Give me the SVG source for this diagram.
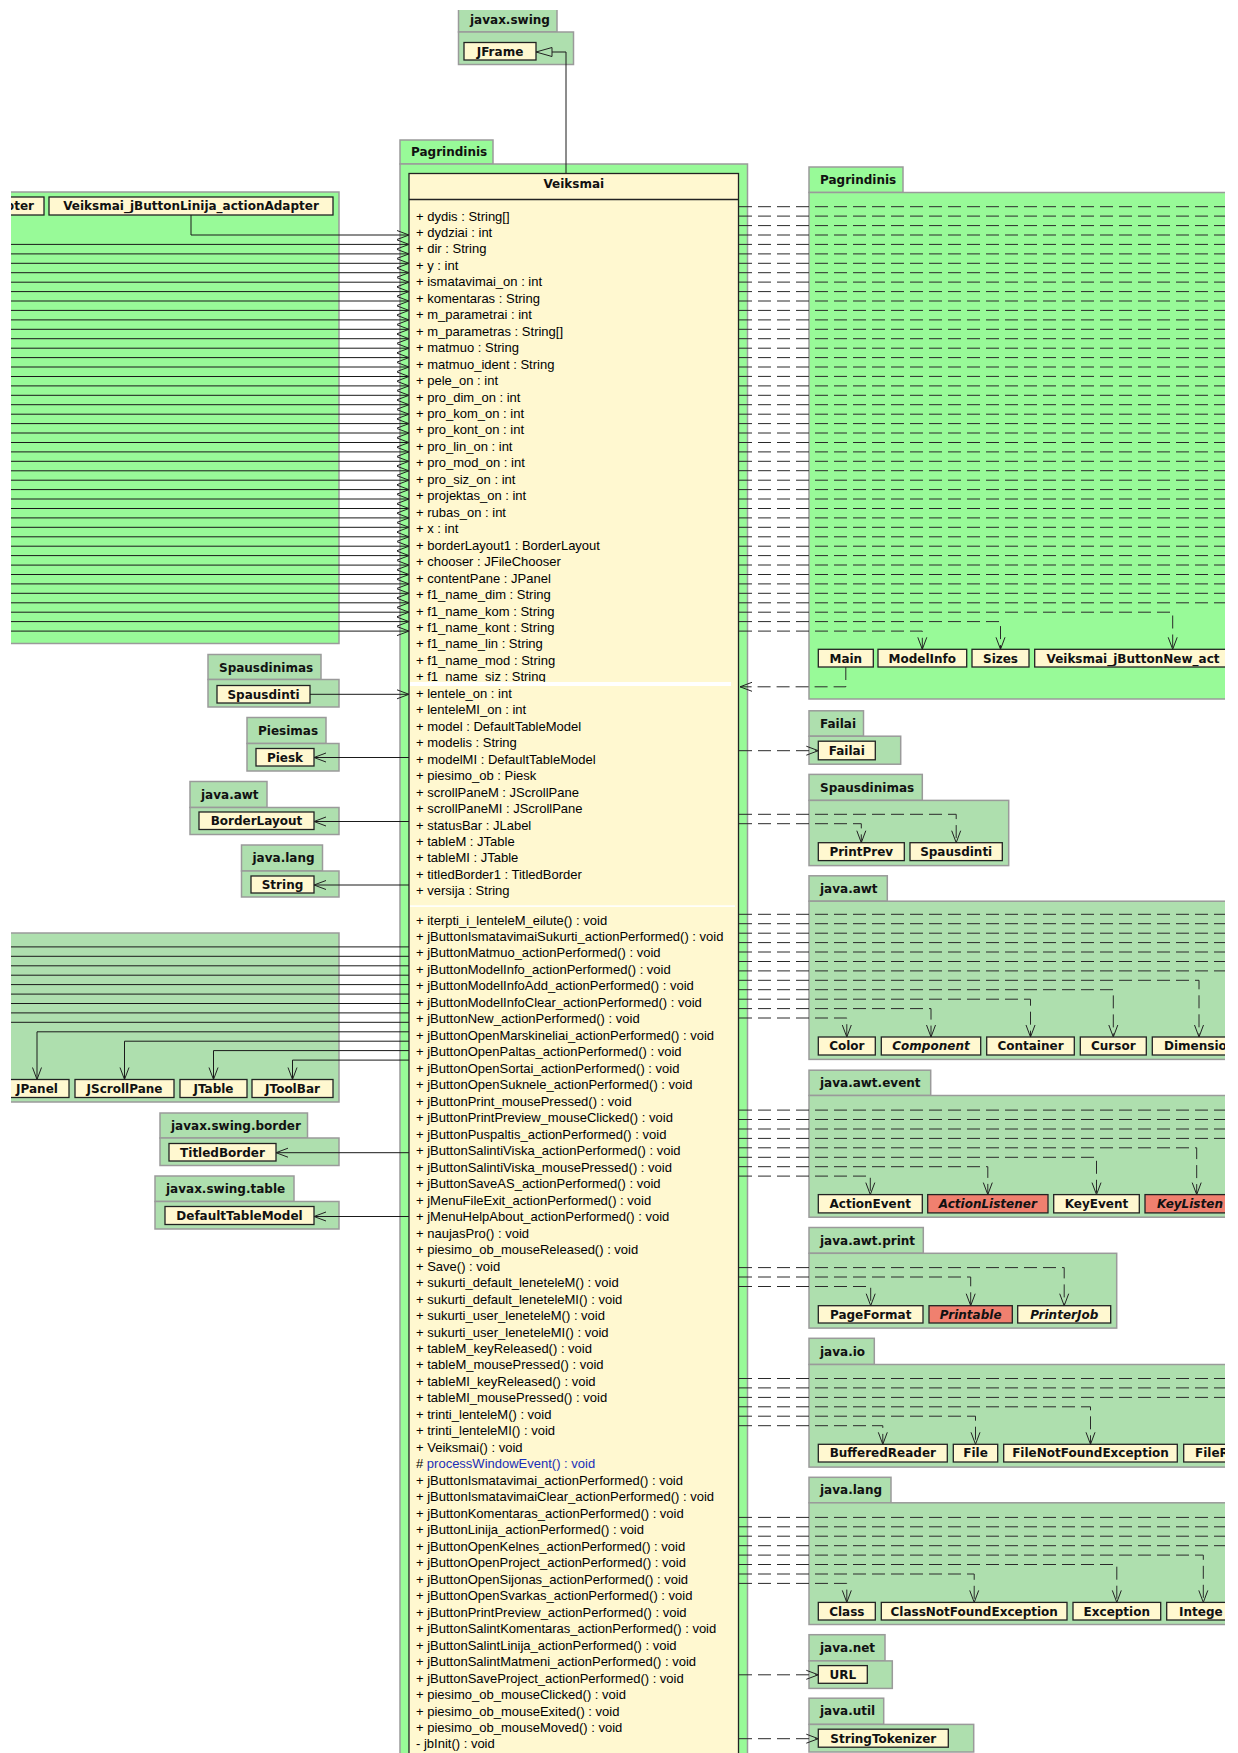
<svg xmlns="http://www.w3.org/2000/svg" width="1238" height="1753" viewBox="0 0 1238 1753">
<style>
.pkg{fill:#98FA98;stroke:#9A9A9A;stroke-width:1.5}
.ext{fill:#AEDFAE;stroke:#9A9A9A;stroke-width:1.5}
.cls{fill:#FFF8D0;stroke:#222;stroke-width:1.3}
.iface{fill:#F0806F;stroke:#222;stroke-width:1.3}
.lbl{font-family:"DejaVu Sans",Verdana,sans-serif;font-weight:bold;font-size:12px;fill:#111}
.c{text-anchor:middle}
.it{font-style:italic}
.mem{font-family:"Liberation Sans",Arial,sans-serif;font-size:13px;fill:#000}
.prot{fill:#1a2fb8}
.assoc{fill:none;stroke:#1a1a1a;stroke-width:1}
.dep{fill:none;stroke:#2a2a2a;stroke-width:1;stroke-dasharray:13 6}
.seam{fill:#fff}
</style>
<defs>
<clipPath id="view"><rect x="11" y="10" width="1214" height="1743"/></clipPath>
<marker id="open" viewBox="0 0 12 10" refX="12" refY="5" markerWidth="12" markerHeight="10" markerUnits="userSpaceOnUse" orient="auto" overflow="visible">
<path d="M0,0.5 L12,5 L0,9.5" fill="none" stroke="#222" stroke-width="1" stroke-dasharray="none"/>
</marker>
<marker id="gen" viewBox="0 0 16 10" refX="16" refY="5" markerWidth="16" markerHeight="10" markerUnits="userSpaceOnUse" orient="auto" overflow="visible">
<path d="M0,0.5 L16,5 L0,9.5 Z" fill="#AEDFAE" stroke="#222" stroke-width="1"/>
</marker>
</defs>
<rect x="0" y="0" width="1238" height="1753" fill="#fff"/>
<g clip-path="url(#view)">

<!-- packages and classes -->
<g id="pkg-javax-swing-top">
<rect class="ext" x="458.5" y="7" width="98.5" height="25"/>
<rect class="ext" x="458.5" y="32" width="115" height="32.5"/>
<text class="lbl" x="470" y="24">javax.swing</text>
<g id="cls-JFrame"><rect class="cls" x="464" y="42.5" width="72" height="17.5"/><text class="lbl c" x="500" y="55.5">JFrame</text></g>
</g>

<g id="pkg-pagrindinis-main">
<rect class="pkg" x="400" y="140" width="93" height="24"/>
<rect class="pkg" x="400" y="164" width="347.5" height="1620"/>
<text class="lbl" x="411" y="156">Pagrindinis</text>
</g>

<g id="pkg-pagrindinis-left">
<rect class="pkg" x="-5" y="192" width="344" height="451.5"/>
<g id="cls-adapter-left"><rect class="cls" x="-60" y="197" width="104" height="18"/><text class="lbl" x="34" y="210.3" text-anchor="end">pter</text></g>
<g id="cls-Veiksmai_jButtonLinija_actionAdapter"><rect class="cls" x="49" y="197" width="284" height="18"/><text class="lbl c" x="191" y="210.3">Veiksmai_jButtonLinija_actionAdapter</text></g>
</g>

<g id="pkg-spausdinimas-left">
<rect class="ext" x="208" y="654.5" width="113" height="25"/>
<rect class="ext" x="208" y="679.5" width="131" height="27.5"/>
<text class="lbl" x="219" y="671.5">Spausdinimas</text>
<g id="cls-Spausdinti-left"><rect class="cls" x="217" y="685.5" width="93" height="17.5"/><text class="lbl c" x="263.5" y="698.5">Spausdinti</text></g>
</g>

<g id="pkg-piesimas">
<rect class="ext" x="247" y="717.5" width="79" height="26"/>
<rect class="ext" x="247" y="743.5" width="92" height="27.5"/>
<text class="lbl" x="258" y="734.5">Piesimas</text>
<g id="cls-Piesk"><rect class="cls" x="256" y="748.5" width="58" height="17.5"/><text class="lbl c" x="285" y="761.5">Piesk</text></g>
</g>

<g id="pkg-java-awt-left">
<rect class="ext" x="190" y="781.5" width="77" height="26"/>
<rect class="ext" x="190" y="807.5" width="149" height="27"/>
<text class="lbl" x="201" y="798.5">java.awt</text>
<g id="cls-BorderLayout"><rect class="cls" x="199" y="812" width="115" height="17.5"/><text class="lbl c" x="256.5" y="825">BorderLayout</text></g>
</g>

<g id="pkg-java-lang-left">
<rect class="ext" x="241.5" y="845" width="81" height="26"/>
<rect class="ext" x="241.5" y="871" width="97.5" height="26"/>
<text class="lbl" x="252.5" y="862">java.lang</text>
<g id="cls-String"><rect class="cls" x="251" y="876" width="63" height="17"/><text class="lbl c" x="282.5" y="888.8">String</text></g>
</g>

<g id="pkg-javax-swing-left">
<rect class="ext" x="-5" y="933" width="344" height="169"/>
<g id="cls-JPanel"><rect class="cls" x="5" y="1079.5" width="64" height="18"/><text class="lbl c" x="37" y="1092.8">JPanel</text></g>
<g id="cls-JScrollPane"><rect class="cls" x="75" y="1079.5" width="99" height="18"/><text class="lbl c" x="124.5" y="1092.8">JScrollPane</text></g>
<g id="cls-JTable"><rect class="cls" x="180" y="1079.5" width="67" height="18"/><text class="lbl c" x="213.5" y="1092.8">JTable</text></g>
<g id="cls-JToolBar"><rect class="cls" x="252" y="1079.5" width="81" height="18"/><text class="lbl c" x="292.5" y="1092.8">JToolBar</text></g>
</g>

<g id="pkg-javax-swing-border">
<rect class="ext" x="160" y="1113" width="147.5" height="25"/>
<rect class="ext" x="160" y="1138" width="179" height="27.5"/>
<text class="lbl" x="171" y="1130">javax.swing.border</text>
<g id="cls-TitledBorder"><rect class="cls" x="169" y="1143.5" width="107" height="17.5"/><text class="lbl c" x="222.5" y="1156.5">TitledBorder</text></g>
</g>

<g id="pkg-javax-swing-table">
<rect class="ext" x="155" y="1176" width="139" height="25.5"/>
<rect class="ext" x="155" y="1201.5" width="184" height="27.5"/>
<text class="lbl" x="166" y="1193">javax.swing.table</text>
<g id="cls-DefaultTableModel"><rect class="cls" x="165" y="1206.5" width="149" height="18"/><text class="lbl c" x="239.5" y="1219.8">DefaultTableModel</text></g>
</g>

<g id="pkg-pagrindinis-right">
<rect class="pkg" x="809" y="167" width="94" height="25.5"/>
<rect class="pkg" x="809" y="192.5" width="440" height="506.5"/>
<text class="lbl" x="820" y="184">Pagrindinis</text>
<g id="cls-Main"><rect class="cls" x="818.3" y="649.3" width="55" height="17.7"/><text class="lbl c" x="845.8" y="662.5">Main</text></g>
<g id="cls-ModelInfo"><rect class="cls" x="878" y="649.3" width="88.7" height="17.7"/><text class="lbl c" x="922.3" y="662.5">ModelInfo</text></g>
<g id="cls-Sizes"><rect class="cls" x="972" y="649.3" width="57" height="17.7"/><text class="lbl c" x="1000.5" y="662.5">Sizes</text></g>
<g id="cls-Veiksmai_jButtonNew"><rect class="cls" x="1034.7" y="649.3" width="250" height="17.7"/><text class="lbl" x="1046.5" y="662.5">Veiksmai_jButtonNew_act</text></g>
</g>

<g id="pkg-failai">
<rect class="ext" x="809" y="710.8" width="54.5" height="25.4"/>
<rect class="ext" x="809" y="736.2" width="91.7" height="28"/>
<text class="lbl" x="820" y="728">Failai</text>
<g id="cls-Failai"><rect class="cls" x="818.3" y="741.2" width="57" height="18.6"/><text class="lbl c" x="846.8" y="754.8">Failai</text></g>
</g>

<g id="pkg-spausdinimas-right">
<rect class="ext" x="809" y="774.4" width="113.3" height="26"/>
<rect class="ext" x="809" y="800.4" width="199.7" height="65.2"/>
<text class="lbl" x="820" y="791.5">Spausdinimas</text>
<g id="cls-PrintPrev"><rect class="cls" x="818.3" y="842.7" width="86" height="17.9"/><text class="lbl c" x="861.3" y="856">PrintPrev</text></g>
<g id="cls-Spausdinti-right"><rect class="cls" x="910" y="842.7" width="92.3" height="17.9"/><text class="lbl c" x="956.2" y="856">Spausdinti</text></g>
</g>

<g id="pkg-java-awt">
<rect class="ext" x="809" y="875.8" width="78.3" height="25.4"/>
<rect class="ext" x="809" y="901.2" width="440" height="158.2"/>
<text class="lbl" x="820" y="893">java.awt</text>
<g id="cls-Color"><rect class="cls" x="818.3" y="1037" width="57" height="18"/><text class="lbl c" x="846.8" y="1050.3">Color</text></g>
<g id="cls-Component"><rect class="cls" x="881.3" y="1037" width="99.4" height="18"/><text class="lbl c it" x="931" y="1050.3">Component</text></g>
<g id="cls-Container"><rect class="cls" x="986.7" y="1037" width="87.6" height="18"/><text class="lbl c" x="1030.5" y="1050.3">Container</text></g>
<g id="cls-Cursor"><rect class="cls" x="1080.3" y="1037" width="66" height="18"/><text class="lbl c" x="1113.3" y="1050.3">Cursor</text></g>
<g id="cls-Dimension"><rect class="cls" x="1152.3" y="1037" width="100" height="18"/><text class="lbl" x="1164" y="1050.3">Dimensio</text></g>
</g>

<g id="pkg-java-awt-event">
<rect class="ext" x="809" y="1070.2" width="121.7" height="25.3"/>
<rect class="ext" x="809" y="1095.5" width="440" height="121.7"/>
<text class="lbl" x="820" y="1087.2">java.awt.event</text>
<g id="cls-ActionEvent"><rect class="cls" x="818.3" y="1194.6" width="104" height="18.3"/><text class="lbl c" x="870.3" y="1208">ActionEvent</text></g>
<g id="cls-ActionListener"><rect class="iface" x="927.7" y="1194.6" width="120.3" height="18.3"/><text class="lbl c it" x="987.8" y="1208">ActionListener</text></g>
<g id="cls-KeyEvent"><rect class="cls" x="1053.7" y="1194.6" width="85.6" height="18.3"/><text class="lbl c" x="1096.5" y="1208">KeyEvent</text></g>
<g id="cls-KeyListener"><rect class="iface" x="1145" y="1194.6" width="110" height="18.3"/><text class="lbl it" x="1157" y="1208">KeyListen</text></g>
</g>

<g id="pkg-java-awt-print">
<rect class="ext" x="809" y="1227.5" width="114.3" height="25.8"/>
<rect class="ext" x="809" y="1253.3" width="307.7" height="74.8"/>
<text class="lbl" x="820" y="1244.5">java.awt.print</text>
<g id="cls-PageFormat"><rect class="cls" x="818.3" y="1305.7" width="104.7" height="17.3"/><text class="lbl c" x="870.7" y="1318.6">PageFormat</text></g>
<g id="cls-Printable"><rect class="iface" x="929" y="1305.7" width="83.3" height="17.3"/><text class="lbl c it" x="970.7" y="1318.6">Printable</text></g>
<g id="cls-PrinterJob"><rect class="cls" x="1017.7" y="1305.7" width="93" height="17.3"/><text class="lbl c it" x="1064.2" y="1318.6">PrinterJob</text></g>
</g>

<g id="pkg-java-io">
<rect class="ext" x="809" y="1338.3" width="65.3" height="26.2"/>
<rect class="ext" x="809" y="1364.5" width="440" height="102.6"/>
<text class="lbl" x="820" y="1355.5">java.io</text>
<g id="cls-BufferedReader"><rect class="cls" x="818.3" y="1444.3" width="129" height="17.7"/><text class="lbl c" x="882.8" y="1457.4">BufferedReader</text></g>
<g id="cls-File"><rect class="cls" x="953.3" y="1444.3" width="44.4" height="17.7"/><text class="lbl c" x="975.5" y="1457.4">File</text></g>
<g id="cls-FileNotFoundException"><rect class="cls" x="1003.7" y="1444.3" width="173.6" height="17.7"/><text class="lbl c" x="1090.5" y="1457.4">FileNotFoundException</text></g>
<g id="cls-FileReader"><rect class="cls" x="1183.7" y="1444.3" width="100" height="17.7"/><text class="lbl" x="1195" y="1457.4">FileR</text></g>
</g>

<g id="pkg-java-lang-right">
<rect class="ext" x="809" y="1477.3" width="82" height="25.5"/>
<rect class="ext" x="809" y="1502.8" width="440" height="121.7"/>
<text class="lbl" x="820" y="1494.3">java.lang</text>
<g id="cls-Class"><rect class="cls" x="818.3" y="1602.4" width="57" height="17.6"/><text class="lbl c" x="846.8" y="1615.5">Class</text></g>
<g id="cls-ClassNotFoundException"><rect class="cls" x="881.3" y="1602.4" width="185.7" height="17.6"/><text class="lbl c" x="974.2" y="1615.5">ClassNotFoundException</text></g>
<g id="cls-Exception"><rect class="cls" x="1073" y="1602.4" width="87.7" height="17.6"/><text class="lbl c" x="1116.8" y="1615.5">Exception</text></g>
<g id="cls-Integer"><rect class="cls" x="1166.7" y="1602.4" width="90" height="17.6"/><text class="lbl" x="1179" y="1615.5">Intege</text></g>
</g>

<g id="pkg-java-net">
<rect class="ext" x="809" y="1634.7" width="76" height="26.2"/>
<rect class="ext" x="809" y="1660.9" width="83.3" height="27.5"/>
<text class="lbl" x="820" y="1651.8">java.net</text>
<g id="cls-URL"><rect class="cls" x="818.3" y="1665.6" width="49" height="17.7"/><text class="lbl c" x="842.8" y="1678.7">URL</text></g>
</g>

<g id="pkg-java-util">
<rect class="ext" x="809" y="1698.2" width="74.7" height="26.2"/>
<rect class="ext" x="809" y="1724.4" width="164.7" height="27.6"/>
<text class="lbl" x="820" y="1715.3">java.util</text>
<g id="cls-StringTokenizer"><rect class="cls" x="818.3" y="1729.2" width="130" height="18"/><text class="lbl c" x="883.3" y="1742.5">StringTokenizer</text></g>
</g>

<!-- connectors -->
<g id="connectors">
<path class="assoc" d="M566,173.5 V52 H536" marker-end="url(#gen)"/>

<path class="assoc" d="M191,215 V235 H409" marker-end="url(#open)"/>
<path class="assoc" d="M0,244.4 H409" marker-end="url(#open)"/>
<path class="assoc" d="M0,253.9 H409" marker-end="url(#open)"/>
<path class="assoc" d="M0,263.3 H409" marker-end="url(#open)"/>
<path class="assoc" d="M0,272.7 H409" marker-end="url(#open)"/>
<path class="assoc" d="M0,282.2 H409" marker-end="url(#open)"/>
<path class="assoc" d="M0,291.6 H409" marker-end="url(#open)"/>
<path class="assoc" d="M0,301.0 H409" marker-end="url(#open)"/>
<path class="assoc" d="M0,310.4 H409" marker-end="url(#open)"/>
<path class="assoc" d="M0,319.9 H409" marker-end="url(#open)"/>
<path class="assoc" d="M0,329.3 H409" marker-end="url(#open)"/>
<path class="assoc" d="M0,338.7 H409" marker-end="url(#open)"/>
<path class="assoc" d="M0,348.2 H409" marker-end="url(#open)"/>
<path class="assoc" d="M0,357.6 H409" marker-end="url(#open)"/>
<path class="assoc" d="M0,367.0 H409" marker-end="url(#open)"/>
<path class="assoc" d="M0,376.5 H409" marker-end="url(#open)"/>
<path class="assoc" d="M0,385.9 H409" marker-end="url(#open)"/>
<path class="assoc" d="M0,395.3 H409" marker-end="url(#open)"/>
<path class="assoc" d="M0,404.7 H409" marker-end="url(#open)"/>
<path class="assoc" d="M0,414.2 H409" marker-end="url(#open)"/>
<path class="assoc" d="M0,423.6 H409" marker-end="url(#open)"/>
<path class="assoc" d="M0,433.0 H409" marker-end="url(#open)"/>
<path class="assoc" d="M0,442.5 H409" marker-end="url(#open)"/>
<path class="assoc" d="M0,451.9 H409" marker-end="url(#open)"/>
<path class="assoc" d="M0,461.3 H409" marker-end="url(#open)"/>
<path class="assoc" d="M0,470.8 H409" marker-end="url(#open)"/>
<path class="assoc" d="M0,480.2 H409" marker-end="url(#open)"/>
<path class="assoc" d="M0,489.6 H409" marker-end="url(#open)"/>
<path class="assoc" d="M0,499.0 H409" marker-end="url(#open)"/>
<path class="assoc" d="M0,508.5 H409" marker-end="url(#open)"/>
<path class="assoc" d="M0,517.9 H409" marker-end="url(#open)"/>
<path class="assoc" d="M0,527.3 H409" marker-end="url(#open)"/>
<path class="assoc" d="M0,536.8 H409" marker-end="url(#open)"/>
<path class="assoc" d="M0,546.2 H409" marker-end="url(#open)"/>
<path class="assoc" d="M0,555.6 H409" marker-end="url(#open)"/>
<path class="assoc" d="M0,565.1 H409" marker-end="url(#open)"/>
<path class="assoc" d="M0,574.5 H409" marker-end="url(#open)"/>
<path class="assoc" d="M0,583.9 H409" marker-end="url(#open)"/>
<path class="assoc" d="M0,593.3 H409" marker-end="url(#open)"/>
<path class="assoc" d="M0,602.8 H409" marker-end="url(#open)"/>
<path class="assoc" d="M0,612.2 H409" marker-end="url(#open)"/>
<path class="assoc" d="M0,621.6 H409" marker-end="url(#open)"/>
<path class="assoc" d="M0,631.1 H409" marker-end="url(#open)"/>

<path class="assoc" d="M310,694.3 H409" marker-end="url(#open)"/>
<path class="assoc" d="M409,757.5 H314" marker-end="url(#open)"/>
<path class="assoc" d="M409,821.5 H314" marker-end="url(#open)"/>
<path class="assoc" d="M409,885 H314" marker-end="url(#open)"/>

<path class="assoc" d="M409,946.9 H0"/>
<path class="assoc" d="M409,956.3 H0"/>
<path class="assoc" d="M409,965.8 H0"/>
<path class="assoc" d="M409,975.2 H0"/>
<path class="assoc" d="M409,984.6 H0"/>
<path class="assoc" d="M409,994.1 H0"/>
<path class="assoc" d="M409,1003.5 H0"/>
<path class="assoc" d="M409,1012.9 H0"/>
<path class="assoc" d="M409,1022.3 H0"/>
<path class="assoc" d="M409,1031.8 H37 V1079.5" marker-end="url(#open)"/>
<path class="assoc" d="M409,1041.2 H124.5 V1079.5" marker-end="url(#open)"/>
<path class="assoc" d="M409,1050.6 H213.5 V1079.5" marker-end="url(#open)"/>
<path class="assoc" d="M409,1060.1 H292.5 V1079.5" marker-end="url(#open)"/>

<path class="assoc" d="M409,1152.7 H276" marker-end="url(#open)"/>
<path class="assoc" d="M409,1216.5 H314" marker-end="url(#open)"/>

<path class="dep" d="M739,206.7 H1240"/>
<path class="dep" d="M739,216.1 H1240"/>
<path class="dep" d="M739,225.6 H1240"/>
<path class="dep" d="M739,235.0 H1240"/>
<path class="dep" d="M739,244.4 H1240"/>
<path class="dep" d="M739,253.9 H1240"/>
<path class="dep" d="M739,263.3 H1240"/>
<path class="dep" d="M739,272.7 H1240"/>
<path class="dep" d="M739,282.1 H1240"/>
<path class="dep" d="M739,291.6 H1240"/>
<path class="dep" d="M739,301.0 H1240"/>
<path class="dep" d="M739,310.4 H1240"/>
<path class="dep" d="M739,319.9 H1240"/>
<path class="dep" d="M739,329.3 H1240"/>
<path class="dep" d="M739,338.7 H1240"/>
<path class="dep" d="M739,348.2 H1240"/>
<path class="dep" d="M739,357.6 H1240"/>
<path class="dep" d="M739,367.0 H1240"/>
<path class="dep" d="M739,376.4 H1240"/>
<path class="dep" d="M739,385.9 H1240"/>
<path class="dep" d="M739,395.3 H1240"/>
<path class="dep" d="M739,404.7 H1240"/>
<path class="dep" d="M739,414.2 H1240"/>
<path class="dep" d="M739,423.6 H1240"/>
<path class="dep" d="M739,433.0 H1240"/>
<path class="dep" d="M739,442.5 H1240"/>
<path class="dep" d="M739,451.9 H1240"/>
<path class="dep" d="M739,461.3 H1240"/>
<path class="dep" d="M739,470.7 H1240"/>
<path class="dep" d="M739,480.2 H1240"/>
<path class="dep" d="M739,489.6 H1240"/>
<path class="dep" d="M739,499.0 H1240"/>
<path class="dep" d="M739,508.5 H1240"/>
<path class="dep" d="M739,517.9 H1240"/>
<path class="dep" d="M739,527.3 H1240"/>
<path class="dep" d="M739,536.8 H1240"/>
<path class="dep" d="M739,546.2 H1240"/>
<path class="dep" d="M739,555.6 H1240"/>
<path class="dep" d="M739,565.0 H1240"/>
<path class="dep" d="M739,574.5 H1240"/>
<path class="dep" d="M739,583.9 H1240"/>
<path class="dep" d="M739,593.3 H1240"/>
<path class="dep" d="M739,602.8 H1240"/>
<path class="dep" d="M739,612.2 H1172.7 V649.3" marker-end="url(#open)"/>
<path class="dep" d="M739,621.6 H1000.5 V649.3" marker-end="url(#open)"/>
<path class="dep" d="M739,631.1 H922.3 V649.3" marker-end="url(#open)"/>
<path class="dep" d="M845.8,667 V686.8 H740" marker-end="url(#open)"/>

<path class="dep" d="M739,750.7 H818.3" marker-end="url(#open)"/>
<path class="dep" d="M739,814.3 H956.2 V842.7" marker-end="url(#open)"/>
<path class="dep" d="M739,823.7 H861.3 V842.7" marker-end="url(#open)"/>

<path class="dep" d="M739,914.3 H1240"/>
<path class="dep" d="M739,923.7 H1240"/>
<path class="dep" d="M739,933.2 H1240"/>
<path class="dep" d="M739,942.6 H1240"/>
<path class="dep" d="M739,952.0 H1240"/>
<path class="dep" d="M739,961.5 H1240"/>
<path class="dep" d="M739,970.9 H1240"/>
<path class="dep" d="M739,980.3 H1199 V1037" marker-end="url(#open)"/>
<path class="dep" d="M739,989.7 H1113.3 V1037" marker-end="url(#open)"/>
<path class="dep" d="M739,999.2 H1030.5 V1037" marker-end="url(#open)"/>
<path class="dep" d="M739,1008.6 H931 V1037" marker-end="url(#open)"/>
<path class="dep" d="M739,1018.0 H846.8 V1037" marker-end="url(#open)"/>

<path class="dep" d="M739,1110.1 H1240"/>
<path class="dep" d="M739,1119.5 H1240"/>
<path class="dep" d="M739,1129.0 H1240"/>
<path class="dep" d="M739,1138.4 H1240"/>
<path class="dep" d="M739,1147.8 H1196.7 V1194.6" marker-end="url(#open)"/>
<path class="dep" d="M739,1157.3 H1096.5 V1194.6" marker-end="url(#open)"/>
<path class="dep" d="M739,1166.7 H987.8 V1194.6" marker-end="url(#open)"/>
<path class="dep" d="M739,1176.1 H870.3 V1194.6" marker-end="url(#open)"/>

<path class="dep" d="M739,1267.6 H1064.2 V1305.7" marker-end="url(#open)"/>
<path class="dep" d="M739,1277.0 H970.7 V1305.7" marker-end="url(#open)"/>
<path class="dep" d="M739,1286.5 H870.7 V1305.7" marker-end="url(#open)"/>

<path class="dep" d="M739,1378.5 H1240"/>
<path class="dep" d="M739,1387.9 H1240"/>
<path class="dep" d="M739,1397.4 H1240"/>
<path class="dep" d="M739,1406.8 H1090.5 V1444.3" marker-end="url(#open)"/>
<path class="dep" d="M739,1416.2 H975.5 V1444.3" marker-end="url(#open)"/>
<path class="dep" d="M739,1425.7 H882.8 V1444.3" marker-end="url(#open)"/>

<path class="dep" d="M739,1517.4 H1240"/>
<path class="dep" d="M739,1526.8 H1240"/>
<path class="dep" d="M739,1536.2 H1240"/>
<path class="dep" d="M739,1545.7 H1240"/>
<path class="dep" d="M739,1555.1 H1203.3 V1602.4" marker-end="url(#open)"/>
<path class="dep" d="M739,1564.5 H1116.8 V1602.4" marker-end="url(#open)"/>
<path class="dep" d="M739,1574.0 H974.2 V1602.4" marker-end="url(#open)"/>
<path class="dep" d="M739,1583.4 H846.8 V1602.4" marker-end="url(#open)"/>

<path class="dep" d="M739,1674.8 H818.3" marker-end="url(#open)"/>
<path class="dep" d="M739,1738.7 H818.3" marker-end="url(#open)"/>
</g>

<!-- main class with attribute and operation compartments -->
<g id="cls-Veiksmai">
<rect class="cls" x="409" y="173.5" width="329.5" height="1610"/>
<path d="M409,199.5 H738.5" stroke="#222" stroke-width="1.3"/>
<text class="lbl c" x="573.75" y="187.5">Veiksmai</text>
<text class="mem" x="416" y="220.5"><tspan x="416" y="220.5">+ dydis : String[]</tspan><tspan x="416" dy="16.46">+ dydziai : int</tspan><tspan x="416" dy="16.46">+ dir : String</tspan><tspan x="416" dy="16.46">+ y : int</tspan><tspan x="416" dy="16.46">+ ismatavimai_on : int</tspan><tspan x="416" dy="16.46">+ komentaras : String</tspan><tspan x="416" dy="16.46">+ m_parametrai : int</tspan><tspan x="416" dy="16.46">+ m_parametras : String[]</tspan><tspan x="416" dy="16.46">+ matmuo : String</tspan><tspan x="416" dy="16.46">+ matmuo_ident : String</tspan><tspan x="416" dy="16.46">+ pele_on : int</tspan><tspan x="416" dy="16.46">+ pro_dim_on : int</tspan><tspan x="416" dy="16.46">+ pro_kom_on : int</tspan><tspan x="416" dy="16.46">+ pro_kont_on : int</tspan><tspan x="416" dy="16.46">+ pro_lin_on : int</tspan><tspan x="416" dy="16.46">+ pro_mod_on : int</tspan><tspan x="416" dy="16.46">+ pro_siz_on : int</tspan><tspan x="416" dy="16.46">+ projektas_on : int</tspan><tspan x="416" dy="16.46">+ rubas_on : int</tspan><tspan x="416" dy="16.46">+ x : int</tspan><tspan x="416" dy="16.46">+ borderLayout1 : BorderLayout</tspan><tspan x="416" dy="16.46">+ chooser : JFileChooser</tspan><tspan x="416" dy="16.46">+ contentPane : JPanel</tspan><tspan x="416" dy="16.46">+ f1_name_dim : String</tspan><tspan x="416" dy="16.46">+ f1_name_kom : String</tspan><tspan x="416" dy="16.46">+ f1_name_kont : String</tspan><tspan x="416" dy="16.46">+ f1_name_lin : String</tspan><tspan x="416" dy="16.46">+ f1_name_mod : String</tspan><tspan x="416" dy="16.46">+ f1_name_siz : String</tspan><tspan x="416" dy="16.46">+ lentele_on : int</tspan><tspan x="416" dy="16.46">+ lenteleMI_on : int</tspan><tspan x="416" dy="16.46">+ model : DefaultTableModel</tspan><tspan x="416" dy="16.46">+ modelis : String</tspan><tspan x="416" dy="16.46">+ modelMI : DefaultTableModel</tspan><tspan x="416" dy="16.46">+ piesimo_ob : Piesk</tspan><tspan x="416" dy="16.46">+ scrollPaneM : JScrollPane</tspan><tspan x="416" dy="16.46">+ scrollPaneMI : JScrollPane</tspan><tspan x="416" dy="16.46">+ statusBar : JLabel</tspan><tspan x="416" dy="16.46">+ tableM : JTable</tspan><tspan x="416" dy="16.46">+ tableMI : JTable</tspan><tspan x="416" dy="16.46">+ titledBorder1 : TitledBorder</tspan><tspan x="416" dy="16.46">+ versija : String</tspan></text>
<text class="mem" x="416" y="924.5"><tspan x="416" y="924.5">+ iterpti_i_lenteleM_eilute() : void</tspan><tspan x="416" dy="16.48">+ jButtonIsmatavimaiSukurti_actionPerformed() : void</tspan><tspan x="416" dy="16.48">+ jButtonMatmuo_actionPerformed() : void</tspan><tspan x="416" dy="16.48">+ jButtonModelInfo_actionPerformed() : void</tspan><tspan x="416" dy="16.48">+ jButtonModelInfoAdd_actionPerformed() : void</tspan><tspan x="416" dy="16.48">+ jButtonModelInfoClear_actionPerformed() : void</tspan><tspan x="416" dy="16.48">+ jButtonNew_actionPerformed() : void</tspan><tspan x="416" dy="16.48">+ jButtonOpenMarskineliai_actionPerformed() : void</tspan><tspan x="416" dy="16.48">+ jButtonOpenPaltas_actionPerformed() : void</tspan><tspan x="416" dy="16.48">+ jButtonOpenSortai_actionPerformed() : void</tspan><tspan x="416" dy="16.48">+ jButtonOpenSuknele_actionPerformed() : void</tspan><tspan x="416" dy="16.48">+ jButtonPrint_mousePressed() : void</tspan><tspan x="416" dy="16.48">+ jButtonPrintPreview_mouseClicked() : void</tspan><tspan x="416" dy="16.48">+ jButtonPuspaltis_actionPerformed() : void</tspan><tspan x="416" dy="16.48">+ jButtonSalintiViska_actionPerformed() : void</tspan><tspan x="416" dy="16.48">+ jButtonSalintiViska_mousePressed() : void</tspan><tspan x="416" dy="16.48">+ jButtonSaveAS_actionPerformed() : void</tspan><tspan x="416" dy="16.48">+ jMenuFileExit_actionPerformed() : void</tspan><tspan x="416" dy="16.48">+ jMenuHelpAbout_actionPerformed() : void</tspan><tspan x="416" dy="16.48">+ naujasPro() : void</tspan><tspan x="416" dy="16.48">+ piesimo_ob_mouseReleased() : void</tspan><tspan x="416" dy="16.48">+ Save() : void</tspan><tspan x="416" dy="16.48">+ sukurti_default_leneteleM() : void</tspan><tspan x="416" dy="16.48">+ sukurti_default_leneteleMI() : void</tspan><tspan x="416" dy="16.48">+ sukurti_user_leneteleM() : void</tspan><tspan x="416" dy="16.48">+ sukurti_user_leneteleMI() : void</tspan><tspan x="416" dy="16.48">+ tableM_keyReleased() : void</tspan><tspan x="416" dy="16.48">+ tableM_mousePressed() : void</tspan><tspan x="416" dy="16.48">+ tableMI_keyReleased() : void</tspan><tspan x="416" dy="16.48">+ tableMI_mousePressed() : void</tspan><tspan x="416" dy="16.48">+ trinti_lenteleM() : void</tspan><tspan x="416" dy="16.48">+ trinti_lenteleMI() : void</tspan><tspan x="416" dy="16.48">+ Veiksmai() : void</tspan><tspan x="416" dy="16.48"># </tspan><tspan class="prot">processWindowEvent() : void</tspan><tspan x="416" dy="16.48">+ jButtonIsmatavimai_actionPerformed() : void</tspan><tspan x="416" dy="16.48">+ jButtonIsmatavimaiClear_actionPerformed() : void</tspan><tspan x="416" dy="16.48">+ jButtonKomentaras_actionPerformed() : void</tspan><tspan x="416" dy="16.48">+ jButtonLinija_actionPerformed() : void</tspan><tspan x="416" dy="16.48">+ jButtonOpenKelnes_actionPerformed() : void</tspan><tspan x="416" dy="16.48">+ jButtonOpenProject_actionPerformed() : void</tspan><tspan x="416" dy="16.48">+ jButtonOpenSijonas_actionPerformed() : void</tspan><tspan x="416" dy="16.48">+ jButtonOpenSvarkas_actionPerformed() : void</tspan><tspan x="416" dy="16.48">+ jButtonPrintPreview_actionPerformed() : void</tspan><tspan x="416" dy="16.48">+ jButtonSalintKomentaras_actionPerformed() : void</tspan><tspan x="416" dy="16.48">+ jButtonSalintLinija_actionPerformed() : void</tspan><tspan x="416" dy="16.48">+ jButtonSalintMatmeni_actionPerformed() : void</tspan><tspan x="416" dy="16.48">+ jButtonSaveProject_actionPerformed() : void</tspan><tspan x="416" dy="16.48">+ piesimo_ob_mouseClicked() : void</tspan><tspan x="416" dy="16.48">+ piesimo_ob_mouseExited() : void</tspan><tspan x="416" dy="16.48">+ piesimo_ob_mouseMoved() : void</tspan><tspan x="416" dy="16.48">- jbInit() : void</tspan></text>
<rect class="seam" x="410" y="682" width="321" height="4"/>
<rect class="seam" x="410" y="905.3" width="325" height="1.6"/>
</g>
</g>
</svg>
